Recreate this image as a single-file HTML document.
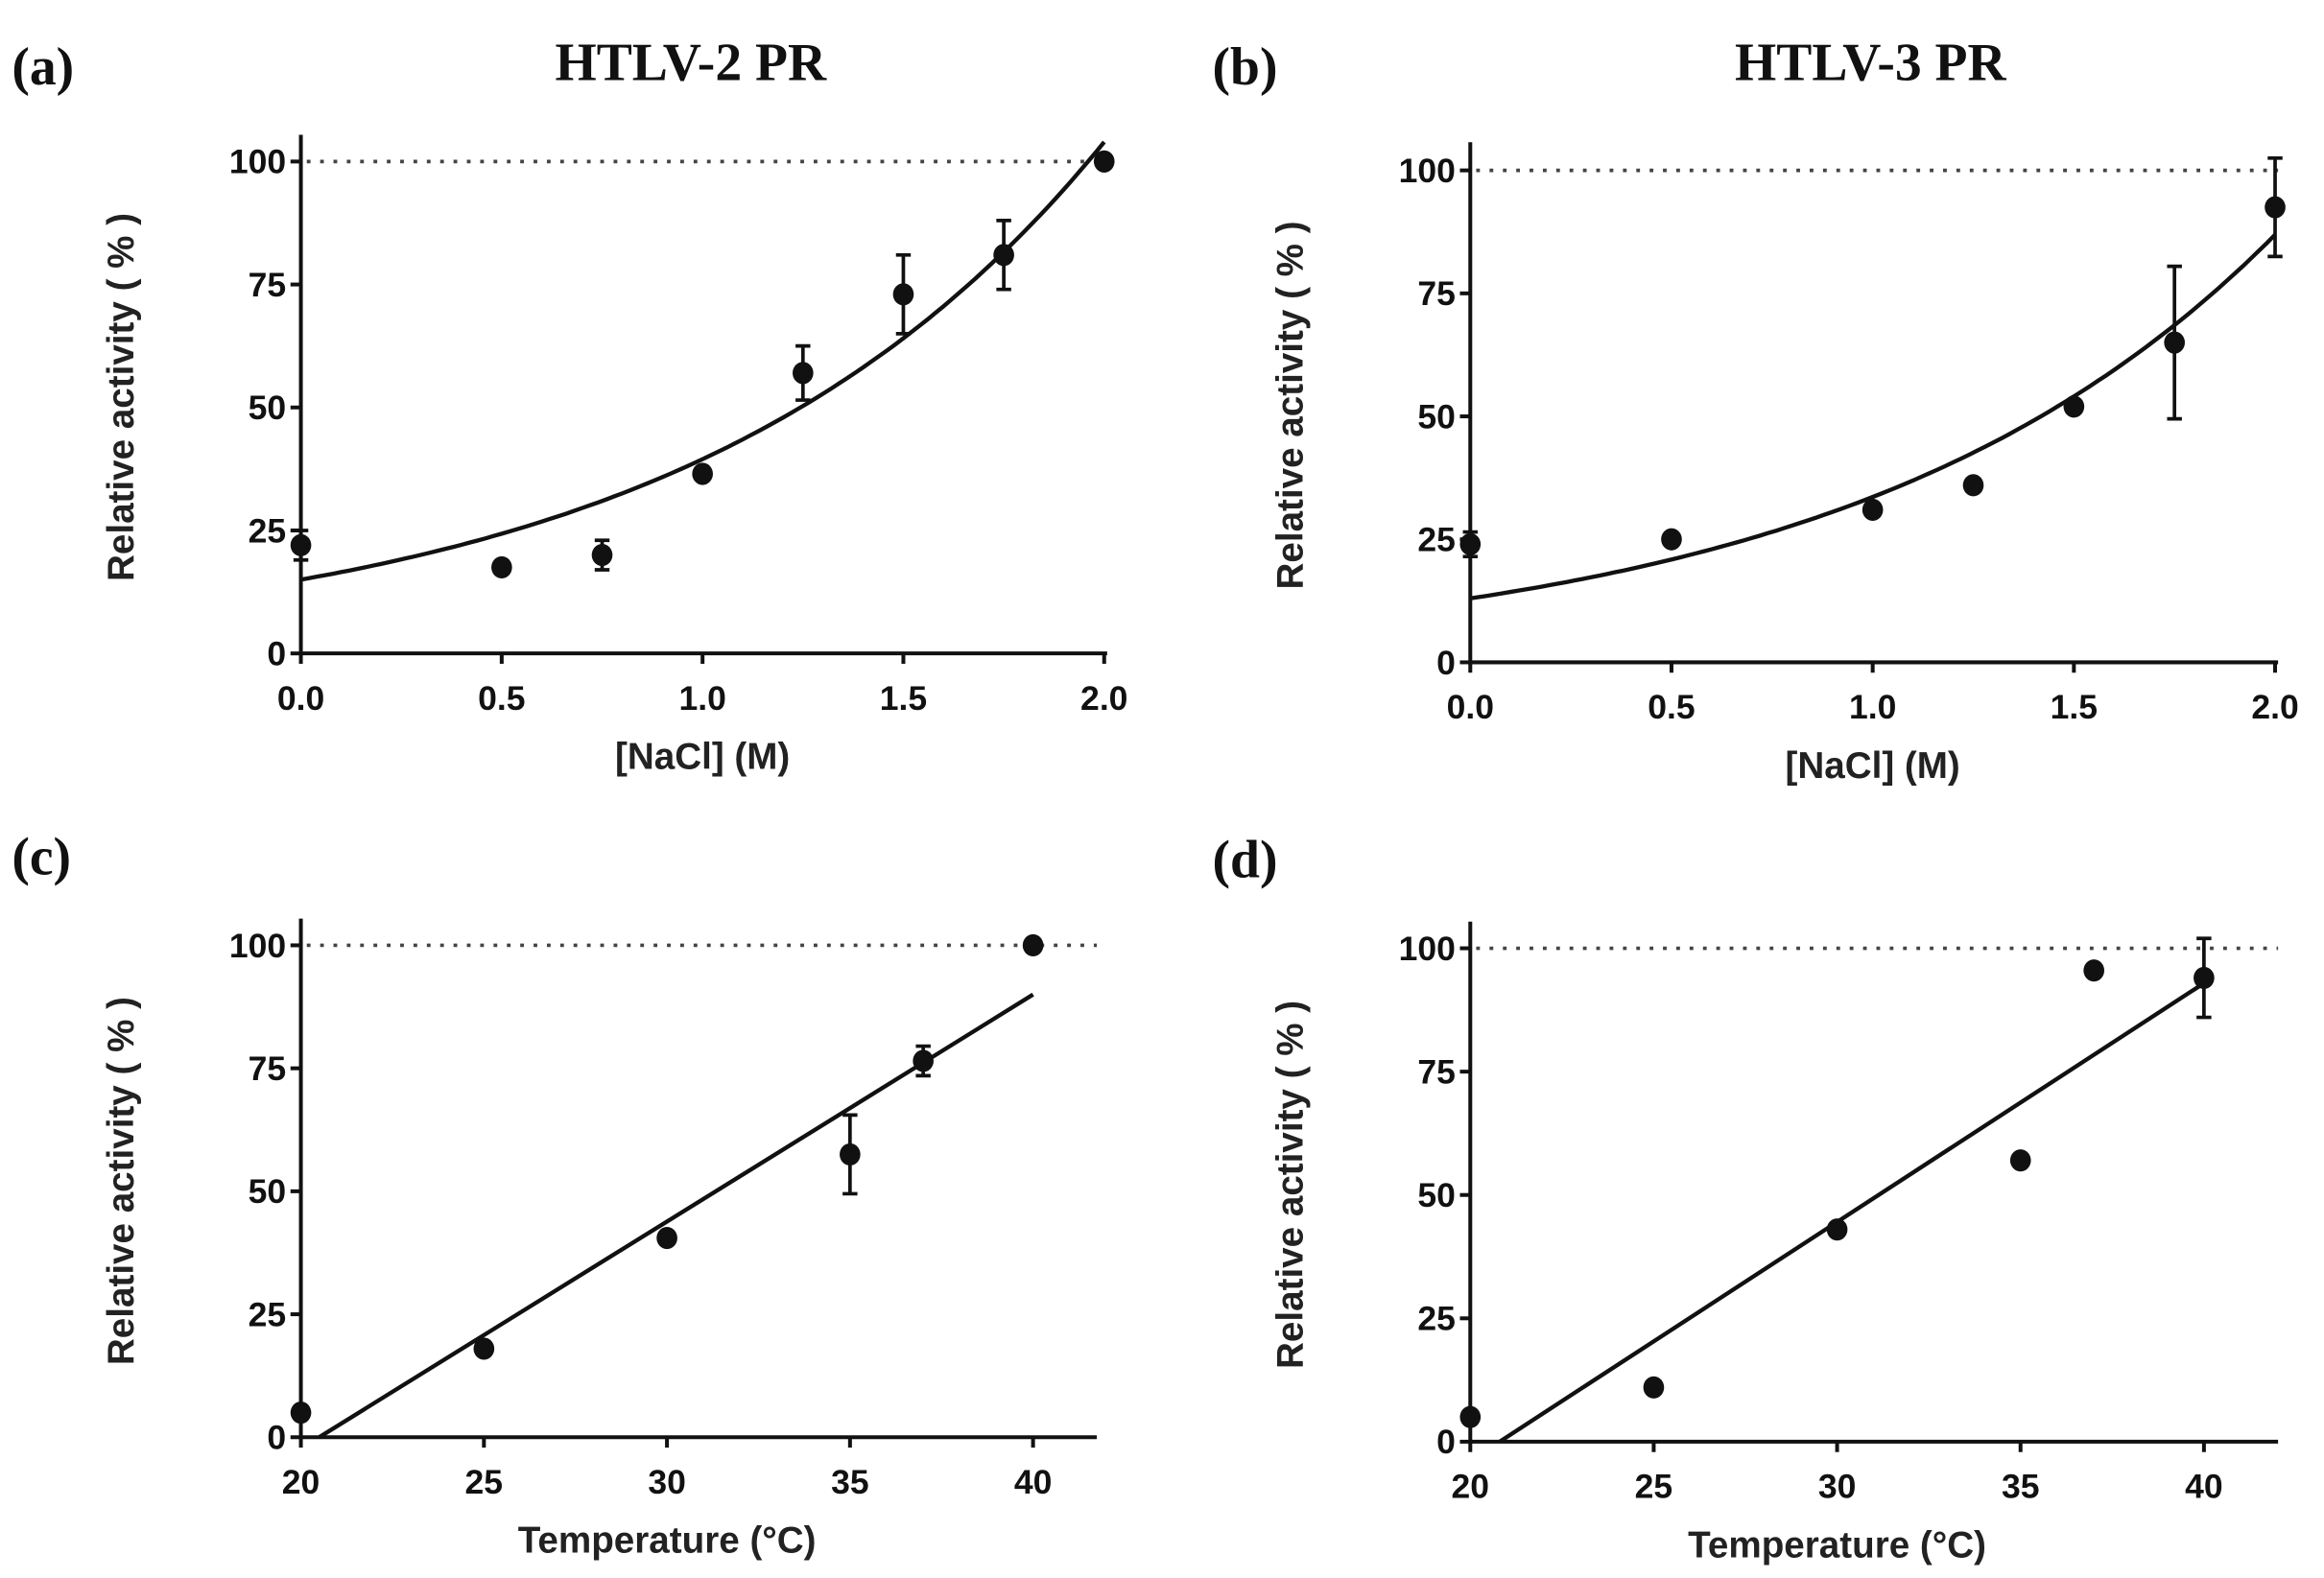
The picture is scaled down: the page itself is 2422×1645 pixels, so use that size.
<!DOCTYPE html>
<html><head><meta charset="utf-8"><style>
html,body{margin:0;padding:0;background:#fff;}
svg{display:block;}
text{font-family:"Liberation Sans",sans-serif;fill:#111;}
.tick{font-size:23px;font-weight:bold;}
.lab{font-size:25px;font-weight:bold;fill:#222;}
.ttl{font-family:"Liberation Serif",serif;font-size:36px;font-weight:bold;}
</style></head><body>
<svg id="fig" width="2422" height="1645" viewBox="0 0 1568 1065" preserveAspectRatio="none"></svg>
<script>
// Panel (a)
const aX=[0,0.5,0.75,1,1.25,1.5,1.75,2];
const aY=[22,17.5,20,36.5,57,73,81,100];
const aE=[3,0,3,0,5.5,8,7,0];
const aFit=[15,0.968];
// Panel (b)
const bX=[0,0.5,1,1.25,1.5,1.75,2];
const bY=[24,25,31,36,52,65,92.5];
const bE=[2.5,0,0,0,0,15.5,10];
const bFit=[13,0.95];
// Panel (c)
const cX=[20,25,30,35,37,40];
const cY=[5,18,40.5,57.5,76.5,100];
const cE=[0,0,0,8,3,0];
const cFit=[20.5,4.615];
// Panel (d)
const dX=[20,25,30,35,37,40];
const dY=[5,11,43,57,95.5,94];
const dE=[0,0,0,0,0,8];
const dFit=[20.8,4.84];
const yTicks=[0,25,50,75,100];
const naclTicks=["0.0","0.5","1.0","1.5","2.0"];
const tempTicks=["20","25","30","35","40"];

const NS="http://www.w3.org/2000/svg";
const svg=document.getElementById('fig');
function mk(tag,attrs,parent,txt){const e=document.createElementNS(NS,tag);for(const k in attrs)e.setAttribute(k,attrs[k]);if(txt!==undefined)e.textContent=txt;(parent||svg).appendChild(e);return e;}

function panel(o){
  const g=mk('g',{});
  
  
  const sx=v=>o.x0+(v-o.xmin)/(o.xmax-o.xmin)*(o.x1-o.x0);
  const sy=v=>o.y0+(v)/100*(o.y100-o.y0);
  const dl=mk('line',{x1:o.x0+4,x2:o.xend,y1:sy(100),y2:sy(100),stroke:'#444','stroke-width':2.4,'stroke-dasharray':'2.5,6.5'},g);
  
  
  const ya=mk('line',{x1:o.x0,x2:o.x0,y1:o.ytop,y2:o.y0+1.5,stroke:'#111','stroke-width':2.6},g);
  
  
  const xa=mk('line',{x1:o.x0-1,x2:o.xend,y1:o.y0,y2:o.y0,stroke:'#111','stroke-width':2.6},g);
  
  
  yTicks.forEach(v=>{
    mk('line',{x1:o.x0-7,x2:o.x0,y1:sy(v),y2:sy(v),stroke:'#111','stroke-width':2.6},g);
    const t=mk('text',{x:o.x0-10,y:sy(v)+8,'text-anchor':'end',class:'tick'},g,String(v));
    
    
  });
  o.ticks.forEach(s=>{
    const v=parseFloat(s);
    mk('line',{x1:sx(v),x2:sx(v),y1:o.y0,y2:o.y0+7,stroke:'#111','stroke-width':2.6},g);
    const t=mk('text',{x:sx(v),y:o.y0+38,'text-anchor':'middle',class:'tick'},g,s);
    
    
  });
  const xl=mk('text',{x:(o.x0+o.x1)/2,y:o.y0+78,'text-anchor':'middle',class:'lab'},g,o.xlabel);
  
  
  const cy=(o.ytop+o.y0)/2+2;
  const lx=o.x0-122;
  const yl=mk('text',{x:lx,y:cy,'text-anchor':'middle',class:'lab',transform:`rotate(-90 ${lx} ${cy})`,dy:'9'},g,'Relative activity ( % )');
  
  
  let d='';
  if(o.exp){for(let i=0;i<=100;i++){const xv=o.xmin+(o.xmax-o.xmin)*i/100;const yv=o.fit[0]*Math.exp(o.fit[1]*xv);d+=(i?'L':'M')+sx(xv).toFixed(1)+','+sy(yv).toFixed(1);}}
  else{const xs=o.fit[0],xe=o.xs[o.xs.length-1];d=`M${sx(xs)},${sy(0)}L${sx(xe)},${sy(o.fit[1]*(xe-xs))}`;}
  const fl=mk('path',{d:d,fill:'none',stroke:'#111','stroke-width':2.8},g);
  
  
  o.xs.forEach((xv,i)=>{
    const px=sx(xv),py=sy(o.ys[i]),e=o.es[i];
    if(e>0){
      const eb=mk('path',{d:`M${px},${sy(o.ys[i]+e)}V${sy(o.ys[i]-e)}M${px-5},${sy(o.ys[i]+e)}H${px+5}M${px-5},${sy(o.ys[i]-e)}H${px+5}`,stroke:'#111','stroke-width':2.4,fill:'none'},g);
      
      
    }
    const c=mk('ellipse',{cx:px,cy:py,rx:7,ry:7.5,fill:'#111'},g);
    
    
  });
}
panel({name:'panel-a',x0:203,x1:745,xend:747,xmin:0,xmax:2,y0:441,y100:109,ytop:91,ticks:naclTicks,xlabel:'[NaCl] (M)',xs:aX,ys:aY,es:aE,fit:aFit,exp:true});
panel({name:'panel-b',x0:992,x1:1535,xend:1537,xmin:0,xmax:2,y0:447,y100:115,ytop:96,ticks:naclTicks,xlabel:'[NaCl] (M)',xs:bX,ys:bY,es:bE,fit:bFit,exp:true});
panel({name:'panel-c',x0:203,x1:697,xend:740,xmin:20,xmax:40,y0:970,y100:638,ytop:620,ticks:tempTicks,xlabel:'Temperature (°C)',xs:cX,ys:cY,es:cE,fit:cFit,exp:false});
panel({name:'panel-d',x0:992,x1:1487,xend:1537,xmin:20,xmax:40,y0:973,y100:640,ytop:622,ticks:tempTicks,xlabel:'Temperature (°C)',xs:dX,ys:dY,es:dE,fit:dFit,exp:false});
[['(a)',8,57],['(b)',818,57],['(c)',8,590],['(d)',818,592]].forEach(p=>{
  const t=mk('text',{x:p[1],y:p[2],class:'ttl'},svg,p[0]);
  
  
});
[['HTLV-2 PR',466,54],['HTLV-3 PR',1262,54]].forEach(p=>{
  const t=mk('text',{x:p[1],y:p[2],'text-anchor':'middle',class:'ttl'},svg,p[0]);
  
  
});
</script>
</body></html>
